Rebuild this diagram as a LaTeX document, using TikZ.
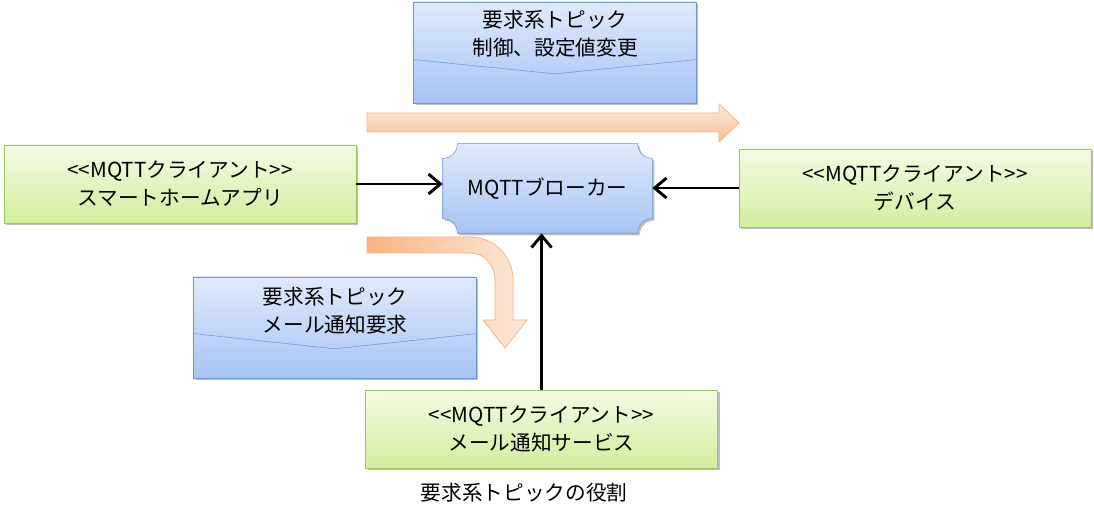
\documentclass[tikz,border=0pt]{standalone}
\usepackage{fontspec}
\setmainfont{Noto Sans CJK JP}
\usetikzlibrary{positioning,calc,shadows,arrows.meta,backgrounds}

\definecolor{bluetop}{HTML}{E0EAFC}
\definecolor{bluebot}{HTML}{A7C4F4}
\definecolor{blueline}{HTML}{6A96D8}
\definecolor{greentop}{HTML}{F3FBE3}
\definecolor{greenbot}{HTML}{D2EE9E}
\definecolor{greenline}{HTML}{9CC85A}
\definecolor{orangedark}{HTML}{F9B384}
\definecolor{orangelight}{HTML}{FEE9DA}
\definecolor{orangeline}{HTML}{F5B48A}

\tikzset{
  boxshadow/.style={drop shadow={shadow xshift=1.5pt,shadow yshift=-1.5pt,opacity=0.25,fill=black}},
  client/.style={draw=greenline,top color=greentop,bottom color=greenbot,align=center,
    minimum width=264pt,minimum height=58.5pt,boxshadow},
  envbox/.style={draw=blueline,top color=bluetop,bottom color=bluebot,
    minimum width=212pt,minimum height=75.75pt,boxshadow},
  envtext/.style={align=center,inner sep=0pt},
  flowarrow/.style={draw=orangeline,line width=0.6pt},
  conn/.style={line width=2.2pt,-{Straight Barb[length=9pt,width=15pt,line width=2.2pt]}},
}

\begin{document}
\begin{tikzpicture}[x=0.75pt,y=-0.75pt,font=\fontsize{15.5}{21}\selectfont]
\useasboundingbox (0,0) rectangle (1094,505);

\node[envbox] (ctrl) at (555,52.5) {};
\node[envtext] (ctrltext) at (555,33.5) {要求系トピック\\制御、設定値変更};
\draw[blueline] ($(ctrl.north west)!0.57!(ctrl.south west)$) -- ($(ctrl.north)!0.71!(ctrl.south)$) -- ($(ctrl.north east)!0.57!(ctrl.south east)$);

\path[flowarrow,top color=orangelight,bottom color=orangedark!85]
  (367,113) -- (719,113) -- (719,104) -- (739,123) -- (719,142) -- (719,132) -- (367,132) -- cycle;

\node[client] (smart) at (180,184) {<{}<MQTTクライアント>{}>\\スマートホームアプリ};
\node[client] (device) at (915,188) {<{}<MQTTクライアント>{}>\\デバイス};
\node[client] (mail) at (541.5,429) {<{}<MQTTクライアント>{}>\\メール通知サービス};

\node[minimum width=156.75pt,minimum height=66.75pt] (broker) at (547.5,188.5) {MQTTブローカー};
\begin{scope}[on background layer]
\path[draw=blueline,top color=bluetop,bottom color=bluebot,boxshadow]
  ($(broker.north west)+(11pt,0)$) -- ($(broker.north east)+(-11pt,0)$)
  arc[start angle=180,end angle=270,radius=11pt] -- ($(broker.south east)+(0,11pt)$)
  arc[start angle=90,end angle=180,radius=11pt] -- ($(broker.south west)+(11pt,0)$)
  arc[start angle=0,end angle=90,radius=11pt] -- ($(broker.north west)+(0,-11pt)$)
  arc[start angle=270,end angle=360,radius=11pt] -- cycle;
\end{scope}

\path[flowarrow,left color=orangedark,right color=orangelight]
  (367,237) -- (470,237) .. controls (494,237) and (513,256) .. (513,280) -- (513,320)
  -- (527,320) -- (505,348) -- (483,320) -- (495,320) -- (495,282)
  .. controls (495,265) and (485,253) .. (470,253) -- (367,253) -- cycle;

\node[envbox] (mailreq) at (335,327.5) {};
\node[envtext] (mailreqtext) at (335,310.5) {要求系トピック\\メール通知要求};
\draw[blueline] ($(mailreq.north west)!0.56!(mailreq.south west)$) -- ($(mailreq.north)!0.71!(mailreq.south)$) -- ($(mailreq.north east)!0.56!(mailreq.south east)$);

\draw[conn] (smart) -- (smart -| broker.west);
\draw[conn] (device) -- (device -| broker.east);
\draw[conn] (mail) -- (mail |- broker.south);

\node (caption) at (524,493) {要求系トピックの役割};
\end{tikzpicture}
\end{document}
